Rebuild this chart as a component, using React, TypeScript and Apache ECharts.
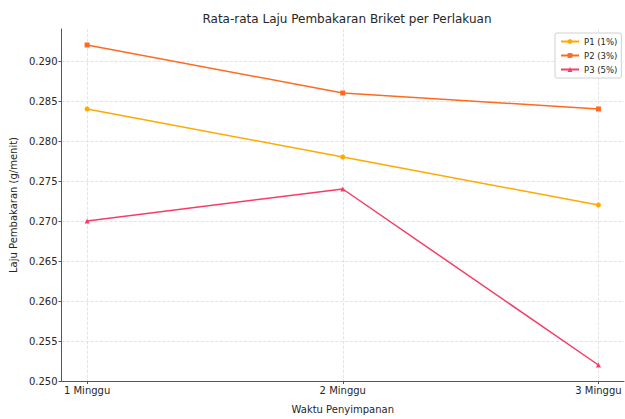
import React, { useEffect, useRef } from "react";
import * as echarts from "echarts";

const categories = ["1 Minggu", "2 Minggu", "3 Minggu"];
const p1 = [0.284, 0.278, 0.272];
const p2 = [0.292, 0.286, 0.284];
const p3 = [0.27, 0.274, 0.252];
const yTicks = [0.25, 0.255, 0.26, 0.265, 0.27, 0.275, 0.28, 0.285, 0.29];
const seriesNames = ["P1 (1%)", "P2 (3%)", "P3 (5%)"];

const FONT = "DejaVu Sans";
const TXT = "#262626";

export default function App() {
  const ref = useRef<HTMLDivElement>(null);
  useEffect(() => {
    if (!ref.current) return;
    const chart = echarts.init(ref.current, null, { renderer: "svg" });
    const toPairs = (arr: number[]) => arr.map((v, i) => [i, v]);
    const xIdx = categories.map((_, i) => i);
    const grid = { type: "dashed", color: "#dddddd", width: 0.8 };
    chart.setOption({
      animation: false,
      backgroundColor: "#ffffff",
      title: {
        text: "Rata-rata Laju Pembakaran Briket per Perlakuan",
        left: 342,
        textAlign: "center",
        top: 8,
        textStyle: { fontFamily: FONT, fontSize: 12, fontWeight: "normal", color: TXT },
      },
      legend: {
        orient: "vertical",
        left: 555,
        top: 33,
        padding: [4, 4, 4, 5],
        itemGap: 5,
        itemWidth: 18,
        itemHeight: 6,
        borderColor: "#d0d0d0",
        borderWidth: 1,
        borderRadius: 2,
        backgroundColor: "rgba(255,255,255,0.85)",
        textStyle: { fontFamily: FONT, fontSize: 8.5, color: TXT },
        data: seriesNames,
      },
      grid: { left: 60, right: 1, top: 29, bottom: 30, containLabel: false },
      xAxis: {
        type: "value",
        min: -0.1,
        max: 2.1,
        name: "Waktu Penyimpanan",
        nameLocation: "middle",
        nameGap: 23,
        nameTextStyle: { fontFamily: FONT, fontSize: 10, color: TXT },
        axisLine: { show: true, onZero: false, lineStyle: { color: "#555", width: 1 } },
        axisTick: { show: true, inside: false, length: 3, customValues: xIdx, lineStyle: { color: "#555" } },
        axisLabel: {
          customValues: xIdx,
          fontFamily: FONT,
          fontSize: 10,
          color: TXT,
          margin: 4,
          formatter: (v: number) => categories[Math.round(v)] ?? "",
        },
        splitLine: { show: true, lineStyle: grid },
      },
      yAxis: {
        type: "value",
        min: 0.25,
        max: 0.294,
        name: "Laju Pembakaran (g/menit)",
        nameLocation: "middle",
        nameGap: 43,
        nameTextStyle: { fontFamily: FONT, fontSize: 10, color: TXT },
        axisLine: { show: true, onZero: false, lineStyle: { color: "#555", width: 1 } },
        axisTick: { show: true, inside: false, length: 3, customValues: yTicks, lineStyle: { color: "#555" } },
        axisLabel: {
          customValues: yTicks,
          fontFamily: FONT,
          fontSize: 10,
          color: TXT,
          margin: 4,
          formatter: (v: number) => v.toFixed(3),
        },
        splitLine: { show: true, lineStyle: grid },
      },
      series: [
        {
          name: seriesNames[0],
          type: "line",
          data: toPairs(p1),
          symbol: "circle",
          symbolSize: 5,
          color: "#ffaa00",
          lineStyle: { width: 1.5 },
        },
        {
          name: seriesNames[1],
          type: "line",
          data: toPairs(p2),
          symbol: "rect",
          symbolSize: 5,
          color: "#ff6a1f",
          lineStyle: { width: 1.5 },
        },
        {
          name: seriesNames[2],
          type: "line",
          data: toPairs(p3),
          symbol: "triangle",
          symbolSize: 5,
          color: "#f53d67",
          lineStyle: { width: 1.5 },
        },
      ],
    });
    return () => chart.dispose();
  }, []);
  return (
    <div
      ref={ref}
      style={{ position: "fixed", left: 0, top: 0, width: 625, height: 419 }}
    />
  );
}
